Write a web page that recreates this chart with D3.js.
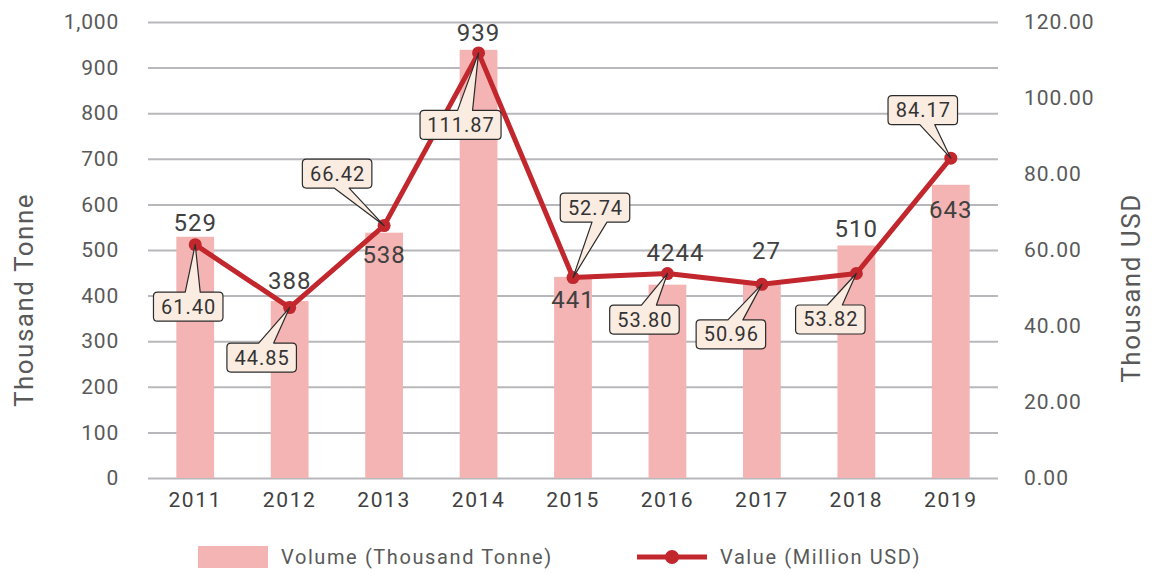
<!DOCTYPE html>
<html>
<head>
<meta charset="utf-8">
<script src="https://cdn.jsdelivr.net/npm/d3@7"></script>
<style>
  body { margin: 0; background: #fff; }
  svg text { font-family: Roboto, "Noto Sans", sans-serif; }
</style>
</head>
<body>
<svg></svg>
<script>
// chart data
let years = ['2011', '2012', '2013', '2014', '2015', '2016', '2017', '2018', '2019']
let volume = [529, 388, 538, 939, 441, 424, 427, 510, 643]
let value = [61.40, 44.85, 66.42, 111.87, 52.74, 53.80, 50.96, 53.82, 84.17]
// the bar labels as printed in the picture (2016/2017 overlap)
let volumeLabels = ['529', '388', '538', '939', '441', '4244', '27', '510', '643']
let leftTicks = [0, 100, 200, 300, 400, 500, 600, 700, 800, 900, 1000]
let rightTicks = [0, 20, 40, 60, 80, 100, 120]

// layout bits for labels / callouts
let labelShift = [-6, -12, 30, -9, 31, -24, -24, -8, 33]
let labelAnchor = ['middle', 'middle', 'middle', 'middle', 'middle', 'start', 'end', 'middle', 'middle']
let labelDx = [0, 0, 0, 0, 0, -21, 19, 0, 0]
let calloutOffset = [[-7, 62], [-28, 50], [-47, -52], [-18, 72], [22, -70], [-23, 46], [-31, 50], [-26, 46], [-28, -48]]

let width = 1157
let height = 574
let plotLeft = 148
let plotRight = 998
let plotTop = 22
let plotBottom = 478

let barColor = '#f4b4b3'
let lineColor = '#c1272d'
let textColor = '#595959'

let svg = d3.select('svg').attr('width', width).attr('height', height)

let xScale = d3.scaleBand().domain(years).range([plotLeft, plotRight]).paddingInner(0.6).paddingOuter(0.3)
let yLeft = d3.scaleLinear().domain([0, 1000]).range([plotBottom, plotTop])
let yRight = d3.scaleLinear().domain([0, 120]).range([plotBottom, plotTop])
let cx = (d) => xScale(d) + xScale.bandwidth() / 2

// gridlines
let grid = svg.append('g')
    .attr('transform', 'translate(' + plotLeft + ',0)')
    .call(d3.axisLeft(yLeft).tickValues(leftTicks).tickSize(-(plotRight - plotLeft)).tickFormat(''))
grid.select('.domain').remove()
grid.selectAll('line').attr('stroke', '#b8b8bc').attr('stroke-width', 2)

// left axis
let yAxisL = svg.append('g')
    .attr('transform', 'translate(119,0)')
    .call(d3.axisLeft(yLeft).tickValues(leftTicks).tickSize(0).tickPadding(0).tickFormat(d3.format(',')))
yAxisL.select('.domain').remove()
yAxisL.selectAll('text').attr('fill', textColor).style('font-size', '21px').style('letter-spacing', '0.8px')

// right axis
let yAxisR = svg.append('g')
    .attr('transform', 'translate(1024,0)')
    .call(d3.axisRight(yRight).tickValues(rightTicks).tickSize(0).tickPadding(0).tickFormat(d3.format('.2f')))
yAxisR.select('.domain').remove()
yAxisR.selectAll('text').attr('fill', textColor).style('font-size', '21px').style('letter-spacing', '1px')

// x axis
let xAxis = svg.append('g')
    .attr('transform', 'translate(0,' + plotBottom + ')')
    .call(d3.axisBottom(xScale).tickSize(0).tickPadding(14))
xAxis.select('.domain').remove()
xAxis.selectAll('text').attr('fill', '#404040').style('font-size', '21px').style('letter-spacing', '1.6px')

// axis titles
svg.append('text')
    .attr('transform', 'translate(33,300) rotate(-90)')
    .attr('text-anchor', 'middle')
    .attr('fill', textColor)
    .style('font-size', '26px')
    .style('letter-spacing', '1.5px')
    .text('Thousand Tonne')

svg.append('text')
    .attr('transform', 'translate(1140,288) rotate(-90)')
    .attr('text-anchor', 'middle')
    .attr('fill', textColor)
    .style('font-size', '26px')
    .style('letter-spacing', '1.5px')
    .text('Thousand USD')

// bars
svg.selectAll('rect.bar')
    .data(volume)
    .enter()
    .append('rect')
    .attr('class', 'bar')
    .attr('x', (d, i) => xScale(years[i]))
    .attr('y', (d) => yLeft(d))
    .attr('width', xScale.bandwidth())
    .attr('height', (d) => plotBottom - yLeft(d))
    .attr('fill', barColor)

// bar labels
svg.selectAll('text.vol')
    .data(volume)
    .enter()
    .append('text')
    .attr('class', 'vol')
    .attr('x', (d, i) => cx(years[i]) + labelDx[i])
    .attr('y', (d, i) => yLeft(d) + labelShift[i])
    .attr('text-anchor', (d, i) => labelAnchor[i])
    .attr('fill', '#404040')
    .style('font-size', '24px')
    .style('letter-spacing', '1px')
    .text((d, i) => volumeLabels[i])

// line
let line = d3.line()
    .x((d, i) => cx(years[i]))
    .y((d) => yRight(d))

svg.append('path')
    .datum(value)
    .attr('d', line)
    .attr('fill', 'none')
    .attr('stroke', lineColor)
    .attr('stroke-width', 5)
    .attr('stroke-linejoin', 'round')

svg.selectAll('circle.pt')
    .data(value)
    .enter()
    .append('circle')
    .attr('class', 'pt')
    .attr('cx', (d, i) => cx(years[i]))
    .attr('cy', (d) => yRight(d))
    .attr('r', 6.5)
    .attr('fill', lineColor)

// callouts
let calloutPath = (x0, y0, w, h, r, tx, ty, b1, b2) => {
    let x1 = x0 + w
    let y1 = y0 + h
    let p = d3.path()
    p.moveTo(x0 + r, y0)
    if (ty < y0) {
        p.lineTo(b1, y0); p.lineTo(tx, ty); p.lineTo(b2, y0)
    }
    p.lineTo(x1 - r, y0)
    p.quadraticCurveTo(x1, y0, x1, y0 + r)
    p.lineTo(x1, y1 - r)
    p.quadraticCurveTo(x1, y1, x1 - r, y1)
    if (ty > y1) {
        p.lineTo(b2, y1); p.lineTo(tx, ty); p.lineTo(b1, y1)
    }
    p.lineTo(x0 + r, y1)
    p.quadraticCurveTo(x0, y1, x0, y1 - r)
    p.lineTo(x0, y0 + r)
    p.quadraticCurveTo(x0, y0, x0 + r, y0)
    p.closePath()
    return p.toString()
}

value.forEach((v, i) => {
    let tx = cx(years[i])
    let ty = yRight(v)
    let label = v.toFixed(2)
    let w = label.length * 11.5 + 12
    let h = 29
    let bx = tx + calloutOffset[i][0]
    let by = ty + calloutOffset[i][1]
    let g = svg.append('g')
    g.append('path')
        .attr('d', calloutPath(bx - w / 2, by - h / 2, w, h, 4, tx, ty, bx - 3, bx + 12))
        .attr('fill', '#fbece2')
        .attr('stroke', '#2b2b2b')
        .attr('stroke-width', 1.2)
        .attr('stroke-linejoin', 'round')
    g.append('text')
        .attr('x', bx + 0.5)
        .attr('y', by + 7)
        .attr('text-anchor', 'middle')
        .attr('fill', '#333')
        .style('font-size', '20px')
        .style('letter-spacing', '1px')
        .text(label)
})

// legend
let legend = svg.append('g')
legend.append('rect')
    .attr('x', 198).attr('y', 546).attr('width', 70).attr('height', 22)
    .attr('fill', barColor)
legend.append('text')
    .attr('x', 281).attr('y', 564)
    .attr('fill', textColor)
    .style('font-size', '20px')
    .style('letter-spacing', '1.6px')
    .text('Volume (Thousand Tonne)')
legend.append('line')
    .attr('x1', 637).attr('x2', 707).attr('y1', 557).attr('y2', 557)
    .attr('stroke', lineColor).attr('stroke-width', 5)
legend.append('circle')
    .attr('cx', 672).attr('cy', 557).attr('r', 7)
    .attr('fill', lineColor)
legend.append('text')
    .attr('x', 720).attr('y', 564)
    .attr('fill', textColor)
    .style('font-size', '20px')
    .style('letter-spacing', '1.6px')
    .text('Value (Million USD)')
</script>
</body>
</html>
